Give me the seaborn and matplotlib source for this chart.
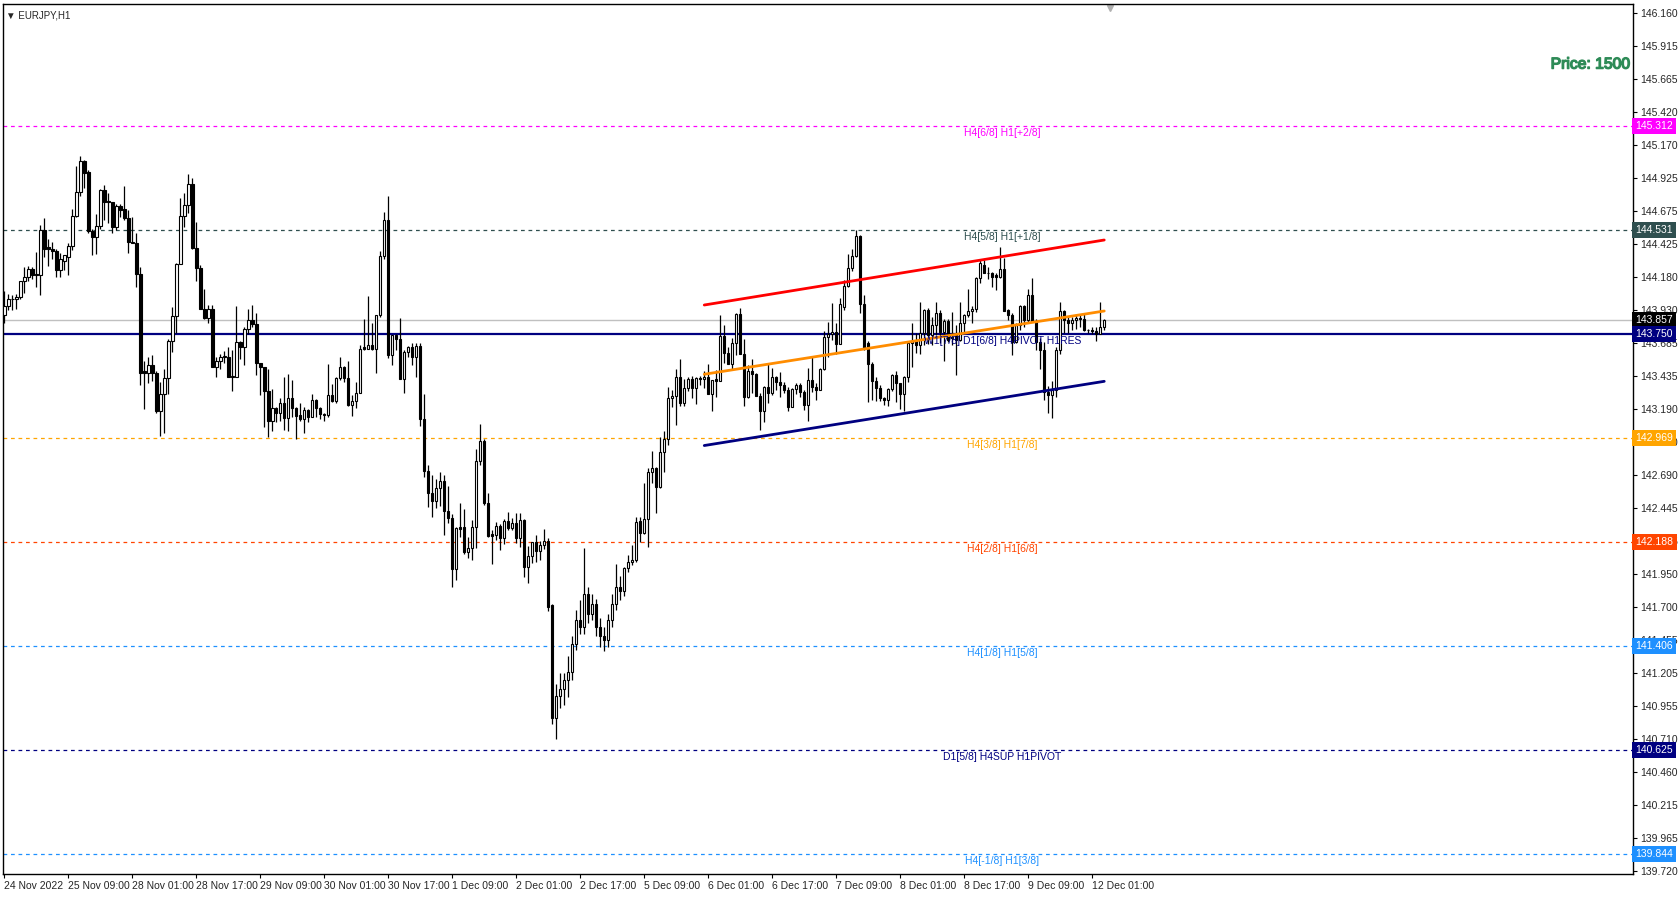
import numpy as np
import pandas as pd
import seaborn as sns
import matplotlib.pyplot as plt
import matplotlib.patheffects as pe
from matplotlib.transforms import blended_transform_factory

# EURJPY H1 candles, 24 Nov 2022 17:00 .. 12 Dec 2022 04:00 (one row = 12 bars)
opens = [
    143.89, 143.963, 144.01, 144.01, 144.03, 144.146, 144.18, 144.236, 144.20, 144.19, 144.53, 144.40,
    144.39, 144.37, 144.23, 144.30, 144.33, 144.41, 144.64, 144.82, 145.05, 144.97, 144.52, 144.48,
    144.56, 144.83, 144.75, 144.74, 144.55, 144.71, 144.69, 144.62, 144.44, 144.43, 144.20, 143.47,
    143.46, 143.52, 143.46, 143.17, 143.30, 143.42, 143.70, 143.886, 144.276, 144.637, 144.72, 144.877,
    144.394, 144.244, 143.94, 143.873, 143.94, 143.50, 143.55, 143.58, 143.58, 143.43, 143.43, 143.69,
    143.65, 143.79, 143.855, 143.826, 143.53, 143.50, 143.325, 143.10, 143.193, 143.155, 143.235, 143.12,
    143.27, 143.193, 143.14, 143.115, 143.18, 143.13, 143.255, 143.198, 143.15, 143.14, 143.29, 143.25,
    143.42, 143.50, 143.42, 143.22, 143.25, 143.31, 143.65, 143.64, 143.67, 143.64, 143.89, 144.337,
    144.607, 143.593, 143.74, 143.71, 143.413, 143.613, 143.65, 143.575, 143.657, 143.11, 142.724, 142.554,
    142.499, 142.592, 142.647, 142.424, 142.366, 141.986, 142.30, 142.30, 142.111, 142.141, 142.299, 142.799,
    142.947, 142.479, 142.249, 142.241, 142.309, 142.221, 142.346, 142.296, 142.329, 142.221, 142.354, 142.004,
    142.084, 142.186, 142.124, 142.166, 142.196, 141.716, 140.87, 141.033, 141.085, 141.153, 141.21, 141.42,
    141.60, 141.55, 141.80, 141.65, 141.72, 141.55, 141.48, 141.45, 141.60, 141.72, 141.85, 141.82,
    141.99, 142.037, 142.054, 142.347, 142.254, 142.36, 142.712, 142.742, 142.60, 142.863, 142.963, 143.268,
    143.285, 143.425, 143.235, 143.343, 143.41, 143.348, 143.418, 143.41, 143.425, 143.30, 143.41, 143.40,
    143.735, 143.61, 143.525, 143.68, 143.90, 143.60, 143.28, 143.472, 143.45, 143.285, 143.17, 143.355,
    143.31, 143.425, 143.392, 143.368, 143.33, 143.20, 143.335, 143.365, 143.316, 143.22, 143.405, 143.355,
    143.33, 143.485, 143.725, 143.748, 143.762, 143.675, 143.955, 144.11, 144.243, 144.336, 144.486, 143.973,
    143.68, 143.525, 143.397, 143.347, 143.267, 143.255, 143.335, 143.442, 143.385, 143.30, 143.43, 143.68,
    143.70, 143.667, 143.755, 143.93, 143.742, 143.818, 143.91, 143.768, 143.85, 143.73, 143.75, 143.705,
    143.83, 143.893, 143.923, 143.935, 144.168, 144.27, 144.21, 144.205, 144.19, 144.176, 144.236, 143.93,
    143.893, 143.693, 143.818, 143.96, 143.855, 144.04, 143.85, 143.693, 143.63, 143.317, 143.29, 143.33,
    143.63, 143.925, 143.855, 143.83, 143.855, 143.87, 143.862, 143.78, 143.78, 143.77, 143.75, 143.80,
]
highs = [
    144.07, 144.05, 144.04, 144.05, 144.15, 144.256, 144.26, 144.25, 144.366, 144.57, 144.62, 144.46,
    144.44, 144.39, 144.36, 144.34, 144.43, 144.69, 145.01, 145.09, 145.06, 144.98, 144.54, 144.65,
    144.84, 144.87, 144.81, 144.74, 144.73, 144.73, 144.86, 144.68, 144.63, 144.51, 144.25, 143.55,
    143.58, 143.59, 143.47, 143.39, 143.49, 143.71, 143.956, 144.28, 144.775, 144.81, 144.95, 144.92,
    144.594, 144.27, 144.086, 143.965, 143.965, 143.58, 143.60, 143.62, 143.65, 143.63, 143.96, 143.70,
    143.80, 143.94, 143.97, 143.91, 143.53, 143.50, 143.49, 143.34, 143.205, 143.268, 143.43, 143.45,
    143.406, 143.20, 143.23, 143.20, 143.19, 143.30, 143.262, 143.205, 143.155, 143.525, 143.375, 143.43,
    143.58, 143.51, 143.55, 143.29, 143.39, 143.67, 143.86, 144.036, 143.83, 143.893, 144.37, 144.67,
    144.787, 143.74, 143.75, 143.868, 143.63, 143.66, 143.68, 143.68, 143.685, 143.30, 142.767, 142.692,
    142.659, 142.712, 142.692, 142.609, 142.399, 142.304, 142.479, 142.434, 142.224, 142.354, 142.884, 143.075,
    142.96, 142.554, 142.279, 142.341, 142.321, 142.359, 142.416, 142.371, 142.404, 142.409, 142.359, 142.161,
    142.191, 142.241, 142.199, 142.286, 142.216, 141.723, 141.123, 141.203, 141.203, 141.333, 141.48, 141.68,
    141.75, 142.14, 141.85, 141.80, 141.76, 141.62, 141.55, 141.65, 141.80, 142.02, 141.93, 142.00,
    142.092, 142.167, 142.379, 142.379, 142.63, 142.742, 142.873, 142.755, 142.98, 143.023, 143.356, 143.33,
    143.486, 143.561, 143.41, 143.425, 143.436, 143.43, 143.436, 143.473, 143.526, 143.405, 143.48, 143.893,
    143.818, 143.655, 143.718, 143.905, 143.943, 143.71, 143.517, 143.56, 143.455, 143.31, 143.36, 143.525,
    143.492, 143.435, 143.467, 143.39, 143.355, 143.342, 143.38, 143.385, 143.33, 143.492, 143.58, 143.38,
    143.492, 143.772, 143.84, 143.98, 143.83, 144.017, 144.155, 144.35, 144.386, 144.531, 144.49, 144.043,
    143.70, 143.54, 143.43, 143.367, 143.28, 143.343, 143.45, 143.47, 143.385, 143.435, 143.693, 143.83,
    143.755, 143.993, 143.935, 143.943, 143.88, 143.993, 143.93, 143.86, 143.86, 143.918, 143.818, 143.993,
    143.90, 144.085, 143.96, 144.175, 144.31, 144.306, 144.256, 144.218, 144.206, 144.406, 144.318, 143.935,
    143.906, 143.835, 143.968, 143.968, 144.085, 144.17, 143.86, 143.72, 143.693, 143.36, 143.40, 143.65,
    143.99, 143.93, 143.88, 143.88, 143.90, 143.89, 143.90, 143.79, 143.80, 143.80, 143.99, 143.86,
]
lows = [
    143.836, 143.93, 143.93, 143.94, 144.016, 144.06, 144.15, 144.16, 144.10, 144.04, 144.33, 144.26,
    144.31, 144.18, 144.18, 144.23, 144.19, 144.38, 144.63, 144.79, 144.85, 144.51, 144.34, 144.35,
    144.54, 144.61, 144.58, 144.51, 144.53, 144.63, 144.61, 144.36, 144.43, 144.10, 143.37, 143.19,
    143.38, 143.40, 143.16, 142.985, 143.005, 143.30, 143.613, 143.756, 144.274, 144.55, 144.66, 144.39,
    144.15, 143.936, 143.866, 143.836, 143.50, 143.43, 143.49, 143.53, 143.43, 143.32, 143.425, 143.56,
    143.52, 143.75, 143.80, 143.44, 143.29, 143.05, 142.975, 143.02, 143.093, 143.10, 143.03, 143.025,
    143.13, 142.96, 143.10, 143.01, 143.09, 143.125, 143.125, 143.11, 143.10, 143.13, 143.24, 143.235,
    143.405, 143.393, 143.21, 143.137, 143.198, 143.31, 143.63, 143.64, 143.63, 143.46, 143.88, 144.31,
    143.568, 143.52, 143.63, 143.41, 143.31, 143.575, 143.518, 143.43, 143.06, 142.68, 142.449, 142.374,
    142.447, 142.459, 142.241, 142.334, 141.853, 141.904, 142.229, 142.099, 142.071, 142.054, 142.141, 142.767,
    142.466, 142.224, 142.024, 142.204, 142.129, 142.171, 142.279, 142.279, 142.184, 142.149, 141.929, 141.878,
    142.034, 142.041, 142.054, 142.134, 141.673, 140.82, 140.707, 140.94, 140.965, 141.023, 141.15, 141.38,
    141.50, 141.50, 141.58, 141.60, 141.48, 141.40, 141.37, 141.40, 141.55, 141.68, 141.75, 141.78,
    141.967, 142.017, 142.042, 142.191, 142.25, 142.154, 142.635, 142.41, 142.592, 142.717, 142.918, 143.20,
    143.068, 143.21, 143.21, 143.326, 143.268, 143.223, 143.368, 143.343, 143.30, 143.175, 143.28, 143.40,
    143.53, 143.525, 143.48, 143.592, 143.60, 143.212, 143.27, 143.305, 143.285, 143.03, 143.09, 143.23,
    143.292, 143.33, 143.28, 143.31, 143.175, 143.20, 143.30, 143.28, 143.18, 143.10, 143.317, 143.255,
    143.33, 143.48, 143.58, 143.705, 143.60, 143.672, 143.93, 144.106, 144.226, 144.331, 143.91, 143.63,
    143.242, 143.255, 143.247, 143.25, 143.217, 143.21, 143.325, 143.24, 143.185, 143.175, 143.393, 143.505,
    143.605, 143.60, 143.667, 143.675, 143.667, 143.743, 143.68, 143.55, 143.693, 143.668, 143.443, 143.70,
    143.755, 143.88, 143.83, 143.918, 144.13, 144.206, 144.16, 144.106, 144.08, 144.168, 143.925, 143.855,
    143.593, 143.68, 143.78, 143.805, 143.83, 143.84, 143.63, 143.49, 143.255, 143.16, 143.117, 143.28,
    143.60, 143.76, 143.76, 143.78, 143.79, 143.80, 143.77, 143.76, 143.75, 143.70, 143.75, 143.78,
]
closes = [
    143.963, 144.01, 144.01, 144.03, 144.146, 144.18, 144.236, 144.19, 144.19, 144.53, 144.39, 144.39,
    144.37, 144.23, 144.31, 144.34, 144.41, 144.64, 144.82, 145.05, 144.96, 144.52, 144.48, 144.56,
    144.83, 144.74, 144.74, 144.55, 144.71, 144.68, 144.62, 144.44, 144.43, 144.20, 143.46, 143.46,
    143.52, 143.46, 143.17, 143.30, 143.42, 143.70, 143.886, 144.276, 144.637, 144.72, 144.877, 144.394,
    144.244, 143.94, 143.873, 143.94, 143.50, 143.55, 143.58, 143.58, 143.43, 143.43, 143.69, 143.65,
    143.79, 143.855, 143.826, 143.53, 143.50, 143.325, 143.10, 143.193, 143.155, 143.235, 143.12, 143.27,
    143.193, 143.135, 143.115, 143.18, 143.13, 143.255, 143.198, 143.15, 143.14, 143.29, 143.25, 143.42,
    143.50, 143.42, 143.22, 143.25, 143.31, 143.64, 143.64, 143.67, 143.64, 143.89, 144.337, 144.607,
    143.593, 143.74, 143.71, 143.413, 143.613, 143.65, 143.575, 143.657, 143.11, 142.724, 142.554, 142.499,
    142.592, 142.647, 142.424, 142.366, 141.986, 142.291, 142.289, 142.111, 142.141, 142.299, 142.799, 142.947,
    142.479, 142.236, 142.236, 142.309, 142.221, 142.346, 142.296, 142.329, 142.221, 142.354, 142.004, 142.084,
    142.186, 142.124, 142.166, 142.196, 141.703, 140.87, 141.033, 141.085, 141.153, 141.21, 141.42, 141.60,
    141.55, 141.80, 141.65, 141.72, 141.55, 141.48, 141.45, 141.60, 141.72, 141.85, 141.82, 141.99,
    142.037, 142.054, 142.337, 142.254, 142.36, 142.712, 142.742, 142.60, 142.863, 142.963, 143.268, 143.285,
    143.425, 143.235, 143.343, 143.41, 143.348, 143.418, 143.41, 143.425, 143.30, 143.405, 143.40, 143.735,
    143.61, 143.525, 143.68, 143.90, 143.60, 143.28, 143.472, 143.45, 143.285, 143.17, 143.355, 143.31,
    143.425, 143.392, 143.368, 143.33, 143.20, 143.335, 143.365, 143.316, 143.22, 143.405, 143.355, 143.33,
    143.485, 143.725, 143.748, 143.762, 143.675, 143.975, 144.11, 144.243, 144.336, 144.486, 143.973, 143.643,
    143.525, 143.397, 143.347, 143.267, 143.255, 143.335, 143.442, 143.385, 143.30, 143.43, 143.68, 143.70,
    143.667, 143.755, 143.93, 143.742, 143.818, 143.91, 143.768, 143.85, 143.705, 143.72, 143.705, 143.83,
    143.893, 143.923, 143.935, 144.168, 144.28, 144.21, 144.205, 144.18, 144.176, 144.236, 143.925, 143.893,
    143.693, 143.818, 143.96, 143.855, 144.043, 143.85, 143.693, 143.63, 143.317, 143.29, 143.33, 143.63,
    143.925, 143.855, 143.83, 143.855, 143.87, 143.862, 143.78, 143.78, 143.77, 143.75, 143.80, 143.857,
]

time_labels = ["24 Nov 2022", "25 Nov 09:00", "28 Nov 01:00", "28 Nov 17:00", "29 Nov 09:00",
               "30 Nov 01:00", "30 Nov 17:00", "1 Dec 09:00", "2 Dec 01:00", "2 Dec 17:00",
               "5 Dec 09:00", "6 Dec 01:00", "6 Dec 17:00", "7 Dec 09:00", "8 Dec 01:00",
               "8 Dec 17:00", "9 Dec 09:00", "12 Dec 01:00"]
price_ticks = [146.160, 145.915, 145.665, 145.420, 145.170, 144.925, 144.675, 144.425, 144.180,
               143.930, 143.685, 143.435, 143.190, 142.940, 142.690, 142.445, 142.195, 141.950,
               141.700, 141.455, 141.205, 140.955, 140.710, 140.460, 140.215, 139.965, 139.720]

# murrey-math style levels
level_prices = [145.312, 144.531, 143.750, 142.969, 142.188, 141.406, 140.625, 139.844]
level_colors = ["#FF00FF", "#2F4F4F", "#000080", "#FFA500", "#FF4500", "#1E90FF", "#000080", "#1E90FF"]
level_names = ["H4[6/8] H1[+2/8]", "H4[5/8] H1[+1/8]", "W1[7/8] D1[6/8] H4PIVOT H1RES",
               "H4[3/8] H1[7/8]", "H4[2/8] H1[6/8]", "H4[1/8] H1[5/8]",
               "D1[5/8] H4SUP H1PIVOT", "H4[-1/8] H1[3/8]"]
bid_price = 143.857

# regression channel (start bar, end bar)
channel_x = [175, 275]
channel_upper = [143.968, 144.456]
channel_mid = [143.448, 143.923]
channel_lower = [142.913, 143.395]

sns.set_theme(style="white")
plt.rcParams["font.family"] = ["DejaVu Sans"]
narrow = ["Liberation Sans Narrow", "Liberation Sans", "DejaVu Sans"]
plain = ["Liberation Sans", "DejaVu Sans"]

df = pd.DataFrame({"open": opens, "high": highs, "low": lows, "close": closes})
df["x"] = np.arange(len(df))
up = df["close"] >= df["open"]

fig = plt.figure(figsize=(16.8, 8.97), dpi=100)
ax = fig.add_axes([3 / 1680, 23 / 897, 1630 / 1680, 870 / 897])
ax.set_facecolor("white")

# levels
for p, c, name in zip(level_prices, level_colors, level_names):
    if name.startswith("W1"):
        ax.axhline(p, color=c, lw=1.6, zorder=1)
    else:
        ax.axhline(p, color=c, lw=0.9, ls=(0, (3, 3)), zorder=1)
    ax.text(249.5, p - 0.052, name, color=c, fontsize=7.5, family=plain,
            ha="center", va="center", zorder=6)
ax.axhline(bid_price, color="#C0C0C0", lw=1, zorder=1)

# candles
ax.vlines(df["x"], df["low"], df["high"], color="black", lw=0.9, zorder=3)
body_bottom = np.minimum(df["open"], df["close"])
body_h = np.maximum((df["close"] - df["open"]).abs(), 0.002)
ax.bar(df["x"][up], body_h[up], bottom=body_bottom[up], width=0.6,
       color="white", edgecolor="black", linewidth=0.8, zorder=4)
ax.bar(df["x"][~up], body_h[~up], bottom=body_bottom[~up], width=0.6,
       color="black", edgecolor="black", linewidth=0.8, zorder=4)

# channel lines
sns.lineplot(x=channel_x, y=channel_upper, color="#FF0000", lw=2, ax=ax, zorder=5)
sns.lineplot(x=channel_x, y=channel_mid, color="#FF8C00", lw=2, ax=ax, zorder=5)
sns.lineplot(x=channel_x, y=channel_lower, color="#000080", lw=2, ax=ax, zorder=5)

ax.set_xlim(-0.33, 407.2)
ax.set_ylim(139.696, 146.228)

ax.set_xticks(np.arange(len(time_labels)) * 16)
ax.set_xticklabels(time_labels, ha="left", fontsize=7.5, family=narrow)
ax.yaxis.tick_right()
ax.set_yticks(price_ticks)
ax.set_yticklabels([f"{v:.3f}" for v in price_ticks], fontsize=7.5, family=narrow)
ax.tick_params(axis="both", which="both", direction="out", length=3, width=0.8,
               color="black", pad=2, bottom=True, right=True, left=False)
ax.grid(False)
for s in ax.spines.values():
    s.set_color("black")
    s.set_linewidth(1)

# price tags on the axis
tr = blended_transform_factory(ax.transAxes, ax.transData)
tag_prices = level_prices[:2] + [bid_price] + level_prices[2:]
tag_colors = level_colors[:2] + ["#000000"] + level_colors[2:]
for p, c in zip(tag_prices, tag_colors):
    ax.text(1.0015, p, f"{p:.3f}", transform=tr, color="white", fontsize=7.5, family=narrow,
            ha="left", va="center", clip_on=False, zorder=10,
            bbox=dict(boxstyle="square,pad=0.3", fc=c, ec="none"))

ax.text(0.002, 0.993, "\u25BC EURJPY,H1", transform=ax.transAxes, fontsize=7, family=plain,
        ha="left", va="top")
ax.text(0.9495, 145.777, "Price: 1500", transform=tr, color="#2E8B57", fontsize=11.3,
        family=plain, ha="left", va="center",
        path_effects=[pe.withStroke(linewidth=1.0, foreground="#2E8B57")])
ax.plot([276.5], [146.2], marker="v", color="#B0B0B0", markersize=5, clip_on=False)

fig.savefig("out.png", dpi=100, facecolor="white")
